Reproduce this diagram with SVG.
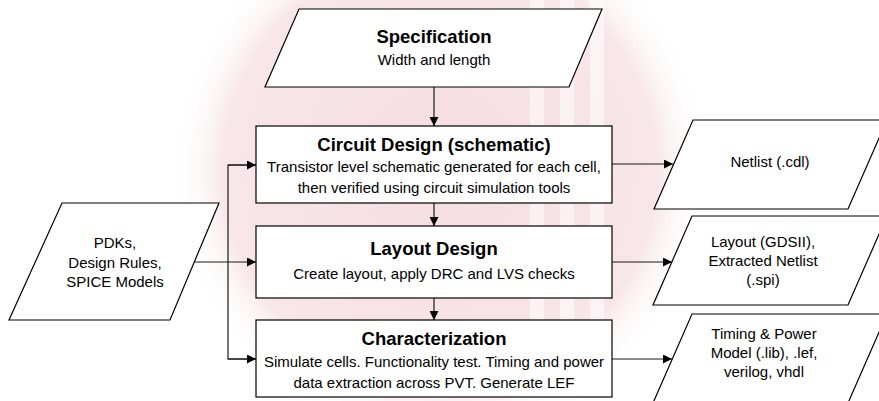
<svg xmlns="http://www.w3.org/2000/svg" width="879" height="401" viewBox="0 0 879 401">
  <defs>
    <style>
      .shape { fill: #ffffff; stroke: #000000; stroke-width: 1.2; }
      .wire { fill: none; stroke: #1a1a1a; stroke-width: 1.2; }
      .title { font-family: "Liberation Sans", Arial, sans-serif; font-weight: bold; font-size: 18.5px; fill: #000; text-anchor: middle; }
      .body { font-family: "Liberation Sans", Arial, sans-serif; font-size: 15px; fill: #000; text-anchor: middle; }
    </style>
    <marker id="arrow" viewBox="0 0 10 10" refX="10" refY="5" markerWidth="9" markerHeight="9" markerUnits="userSpaceOnUse" orient="auto">
      <path d="M0,0 L10,5 L0,10 Z" fill="#000"/>
    </marker>
    <radialGradient id="seal" cx="0.5" cy="0.5" r="0.5">
      <stop offset="0" stop-color="#f6dde1"/>
      <stop offset="0.8" stop-color="#f8e6e9"/>
      <stop offset="1" stop-color="#ffffff" stop-opacity="0"/>
    </radialGradient>
  </defs>

  <rect width="879" height="401" fill="#ffffff"/>

  <!-- faint background seal -->
  <g id="seal-backdrop">
    <circle cx="440" cy="170" r="270" fill="url(#seal)"/>
    <g fill="#ffffff" opacity="0.55">
      <rect x="530" y="0" width="14" height="330"/>
      <rect x="560" y="0" width="14" height="330"/>
      <rect x="590" y="0" width="14" height="330"/>
    </g>
  </g>

  <!-- connectors -->
  <g id="connectors">
    <line class="wire" x1="434" y1="87" x2="434" y2="126" marker-end="url(#arrow)"/>
    <line class="wire" x1="434" y1="203" x2="434" y2="226" marker-end="url(#arrow)"/>
    <line class="wire" x1="434" y1="298" x2="434" y2="320" marker-end="url(#arrow)"/>
    <line class="wire" x1="194" y1="262" x2="256" y2="262" marker-end="url(#arrow)"/>
    <polyline class="wire" points="256,165 228,165 228,359 256,359"/>
    <line class="wire" x1="228" y1="165" x2="256" y2="165" marker-end="url(#arrow)"/>
    <line class="wire" x1="228" y1="359" x2="256" y2="359" marker-end="url(#arrow)"/>
    <line class="wire" x1="612" y1="164" x2="673" y2="164" marker-end="url(#arrow)"/>
    <line class="wire" x1="612" y1="262" x2="672" y2="262" marker-end="url(#arrow)"/>
    <line class="wire" x1="612" y1="359" x2="672" y2="359" marker-end="url(#arrow)"/>
  </g>

  <g id="specification">
    <polygon class="shape" points="299,9 602,9 569,87 265,87"/>
    <text class="title" x="434" y="43">Specification</text>
    <text class="body" x="434" y="65">Width and length</text>
  </g>

  <g id="circuit-design">
    <rect class="shape" x="256" y="126" width="356" height="77"/>
    <text class="title" x="434" y="151">Circuit Design (schematic)</text>
    <text class="body" x="434" y="172">Transistor level schematic generated for each cell,</text>
    <text class="body" x="434" y="193">then verified using circuit simulation tools</text>
  </g>

  <g id="layout-design">
    <rect class="shape" x="256" y="226" width="356" height="72"/>
    <text class="title" x="434" y="255">Layout Design</text>
    <text class="body" x="434" y="279">Create layout, apply DRC and LVS checks</text>
  </g>

  <g id="characterization">
    <rect class="shape" x="256" y="320" width="356" height="77"/>
    <text class="title" x="434" y="345">Characterization</text>
    <text class="body" x="434" y="367">Simulate cells. Functionality test. Timing and power</text>
    <text class="body" x="434" y="388">data extraction across PVT. Generate LEF</text>
  </g>

  <g id="pdk-inputs">
    <polygon class="shape" points="62,203 219,203 170,320 9,320"/>
    <text class="body" x="115" y="248">PDKs,</text>
    <text class="body" x="115" y="268">Design Rules,</text>
    <text class="body" x="115" y="287">SPICE Models</text>
  </g>

  <g id="netlist">
    <polygon class="shape" points="693,120 887,120 848,209 654,209"/>
    <text class="body" x="770" y="167">Netlist (.cdl)</text>
  </g>

  <g id="layout-files">
    <polygon class="shape" points="692,216 887,216 848,305 653,305"/>
    <text class="body" x="763" y="247">Layout (GDSII),</text>
    <text class="body" x="763" y="266">Extracted Netlist</text>
    <text class="body" x="763" y="285">(.spi)</text>
  </g>

  <g id="timing-models">
    <polygon class="shape" points="692,314 887,314 848,403 653,403"/>
    <text class="body" x="764" y="339">Timing &amp; Power</text>
    <text class="body" x="764" y="358">Model (.lib), .lef,</text>
    <text class="body" x="764" y="377">verilog, vhdl</text>
  </g>
</svg>
